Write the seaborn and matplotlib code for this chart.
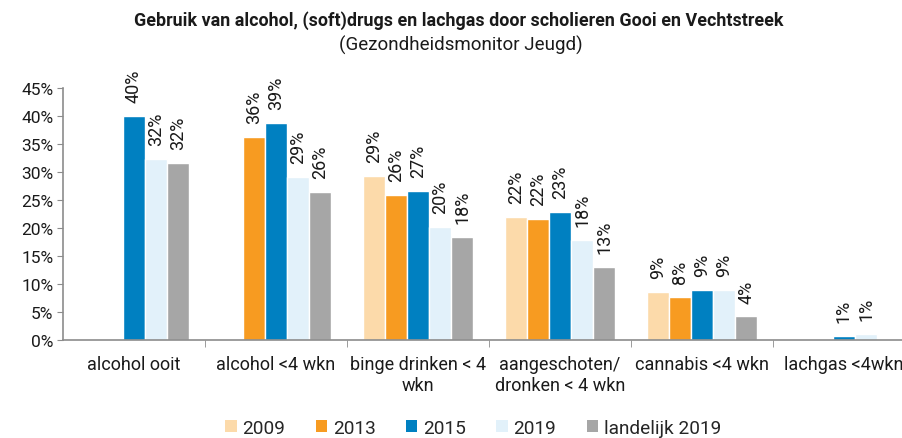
import numpy as np
import pandas as pd
import matplotlib
matplotlib.use("Agg")
import matplotlib.pyplot as plt
import seaborn as sns
from matplotlib.ticker import FixedLocator, FuncFormatter
from matplotlib.patches import Patch

# ── data ────────────────────────────────────────────────
categories = ["alcohol ooit", "alcohol <4 wkn", "binge drinken < 4\nwkn",
              "aangeschoten/\ndronken < 4 wkn", "cannabis <4 wkn", "lachgas <4wkn"]
years = ["2009", "2013", "2015", "2019", "landelijk 2019"]
v2009 = [np.nan, np.nan, 29.3, 22.0, 8.6, np.nan]
v2013 = [np.nan, 36.2, 25.9, 21.6, 7.7, np.nan]
v2015 = [40.0, 38.7, 26.6, 22.9, 8.9, 0.7]
v2019 = [32.3, 29.1, 20.2, 17.9, 8.9, 1.1]
vland = [31.6, 26.4, 18.4, 13.0, 4.2, np.nan]
colors = ["#FCDAAA", "#F79B21", "#0080C1", "#E2F1FA", "#A6A6A6"]

rows = []
for yr, vals in zip(years, [v2009, v2013, v2015, v2019, vland]):
    for cat, v in zip(categories, vals):
        rows.append({"cat": cat, "year": yr, "pct": v})
df = pd.DataFrame(rows).dropna()

sns.set_style("white")
plt.rcParams["font.family"] = ["Roboto", "DejaVu Sans"]

fig = plt.figure(figsize=(9.03, 4.39), dpi=100)
ax = fig.add_axes([63 / 903, 98 / 439, 852 / 903, 252 / 439])

sns.barplot(data=df, x="cat", y="pct", hue="year", order=categories,
            hue_order=years, palette=colors, width=0.78, saturation=1,
            legend=False, ax=ax)

for cont in ax.containers:
    ax.bar_label(cont, fmt=lambda v: f"{v:.0f}%", rotation=90, padding=10,
                 fontsize=13, color="#1a1a1a")

ax.set_xlim(-0.5, 5.5)
ax.set_ylim(0, 45)
ax.set_yticks(range(0, 46, 5))
ax.yaxis.set_major_formatter(FuncFormatter(lambda v, p: f"{v:.0f}%"))
ax.set_xlabel("")
ax.set_ylabel("")
ax.tick_params(axis="y", left=True, length=4, color="#8c8c8c", labelsize=12.5,
               labelcolor="#1a1a1a", pad=3)
ax.tick_params(axis="x", which="major", length=0, labelsize=13,
               labelcolor="#1a1a1a", pad=11)
ax.xaxis.set_minor_locator(FixedLocator(np.arange(0.5, 5.5, 1)))
ax.tick_params(axis="x", which="minor", bottom=True, length=5, color="#8c8c8c")
for s in ["top", "right"]:
    ax.spines[s].set_visible(False)
for s in ["left", "bottom"]:
    ax.spines[s].set_color("#8c8c8c")
    ax.spines[s].set_linewidth(1.2)

fig.text(0.508, 0.953, "Gebruik van alcohol, (soft)drugs en lachgas door scholieren Gooi en Vechtstreek",
         ha="center", va="center", fontsize=12.9, fontweight="bold",
         family=["Liberation Sans Narrow", "Roboto", "DejaVu Sans"], color="#1a1a1a")
fig.text(0.51, 0.897, "(Gezondheidsmonitor Jeugd)", ha="center", va="center",
         fontsize=13.5, family=["Liberation Sans Narrow", "Roboto", "DejaVu Sans"],
         color="#1a1a1a")

handles = [Patch(facecolor=c, edgecolor="none") for c in colors]
fig.legend(handles, years, loc="lower center", bbox_to_anchor=(0.524, -0.036),
           ncol=5, frameon=False, fontsize=13.7, handlelength=0.6, handleheight=0.6,
           handletextpad=0.3, columnspacing=1.6)

fig.savefig("out.png", dpi=100)
